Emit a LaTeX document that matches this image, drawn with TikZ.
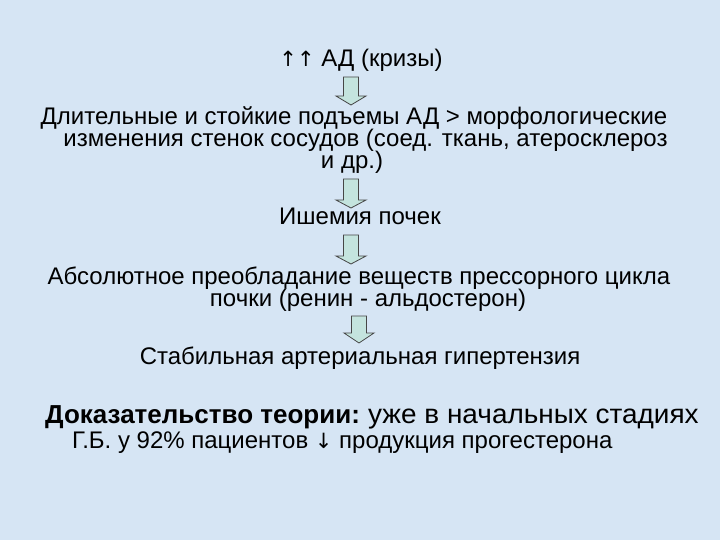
\documentclass[tikz,border=0pt]{standalone}
\usepackage{fontspec}
\setmainfont{Liberation Sans}
\newfontfamily\arrowfont{DejaVu Sans}
\definecolor{bgblue}{RGB}{214,229,244}
\definecolor{arrowfill}{RGB}{196,228,222}
\definecolor{arrowline}{RGB}{70,70,70}
\newcommand\blockarr[4]{%
  \draw[barrow] (#1-7.5,#2) -- (#1+7.5,#2) -- (#1+7.5,#3) -- (#1+15,#3) -- (#1,#4) -- (#1-15,#3) -- (#1-7.5,#3) -- cycle;}
\newcommand\uparr{{\arrowfont\fontsize{21}{21}\selectfont ↑}}
\newcommand\downarr{{\arrowfont\fontsize{21}{21}\selectfont ↓}}
\begin{document}
\begin{tikzpicture}[x=1pt,y=-1pt,
  txt/.style={anchor=base, inner sep=0pt, font=\fontsize{24}{24}\selectfont},
  txtl/.style={anchor=base west, inner sep=0pt, font=\fontsize{24}{24}\selectfont},
  barrow/.style={fill=arrowfill, draw=arrowline, line width=0.8pt, line join=miter}]
\fill[bgblue] (0,0) rectangle (720,540);
\useasboundingbox (0,0) rectangle (720,540);
\node[txt] (t1) at (361,67) {\uparr\uparr{} АД (кризы)};
\node[txt] (t2a) at (354,125) {Длительные и стойкие подъемы АД > морфологические};
\node[txt] (t2b) at (365.5,147) {изменения стенок сосудов (соед. ткань, атеросклероз};
\node[txt] (t2c) at (352,169) {и др.)};
\node[txt] (t3) at (360,225) {Ишемия почек};
\node[txt] (t4a) at (359,284) {Абсолютное преобладание веществ прессорного цикла};
\node[txt] (t4b) at (368,306) {почки (ренин - альдостерон)};
\node[txt] (t5) at (360,364) {Стабильная артериальная гипертензия};
\node[txtl, font=\fontsize{26}{26}\selectfont\bfseries] (p1) at (45,423) {Доказательство теории:};
\node[txtl, font=\fontsize{27}{27}\selectfont] (p1b) at (368,423) {\scalebox{1.035}[1]{уже в начальных стадиях}};
\node[txtl] (p2) at (72,448) {Г.Б. у 92\% пациентов \downarr{} продукция прогестерона};
\blockarr{351}{77}{96}{105}
\blockarr{351}{179}{200}{208}
\blockarr{351}{235}{256}{264}
\blockarr{359}{316}{333}{343}
\end{tikzpicture}
\end{document}
